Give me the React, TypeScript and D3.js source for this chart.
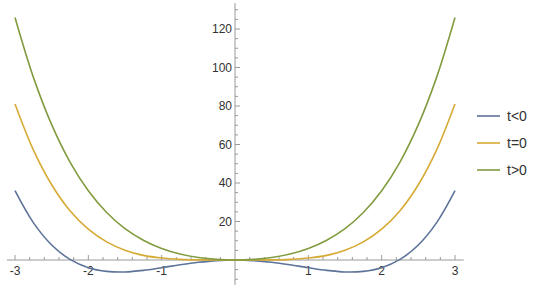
import React from "react";
import * as d3 from "d3";

const xs = [-3, -2.75, -2.5, -2.25, -2, -1.75, -1.5, -1.25, -1, -0.75, -0.5, -0.25, 0,
  0.25, 0.5, 0.75, 1, 1.25, 1.5, 1.75, 2, 2.25, 2.5, 2.75, 3];
const tNeg = [36, 19.4, 7.8, 0.3, -4, -5.9, -6.2, -5.4, -4, -2.5, -1.2, -0.3, 0,
  -0.3, -1.2, -2.5, -4, -5.4, -6.2, -5.9, -4, 0.3, 7.8, 19.4, 36];
const tZero = [81, 57.2, 39.1, 25.6, 16, 9.4, 5.1, 2.4, 1, 0.32, 0.06, 0.004, 0,
  0.004, 0.06, 0.32, 1, 2.4, 5.1, 9.4, 16, 25.6, 39.1, 57.2, 81];
const tPos = [126, 95, 70.3, 50.9, 36, 24.7, 16.3, 10.3, 6, 3.1, 1.3, 0.3, 0,
  0.3, 1.3, 3.1, 6, 10.3, 16.3, 24.7, 36, 50.9, 70.3, 95, 126];
const seriesNames = ["t<0", "t=0", "t>0"];
const seriesColors = ["#5d7398", "#d7aa35", "#809c3f"];
const xTickLabels = [-3, -2, -1, 1, 2, 3];
const yTickLabels = [20, 40, 60, 80, 100, 120];

export default function App() {
  const W = 540, H = 298;
  const x = d3.scaleLinear().domain([-3, 3]).range([15, 455]);
  const y = d3.scaleLinear().domain([0, 120]).range([260, 29]);
  const line = d3.line<[number, number]>()
    .x(d => x(d[0])).y(d => y(d[1]))
    .curve(d3.curveCatmullRom.alpha(0.5));
  const all = [tNeg, tZero, tPos];
  const xMinor = d3.range(-15, 16).map(i => i / 5).filter(v => Math.abs(v) > 1e-9);
  const yMinor = d3.range(-2, 27).map(i => i * 5).filter(v => v !== 0);
  const axisColor = "#9a9a9a";
  const font = "'Liberation Sans', Arial, sans-serif";
  return (
    <svg width={W} height={H} style={{ position: "absolute", left: 0, top: 0, background: "#fff" }}>
      {/* axes */}
      <line x1={x(-3.11)} x2={x(3.12)} y1={y(0)} y2={y(0)} stroke={axisColor} strokeWidth={1} />
      <line x1={x(0)} x2={x(0)} y1={y(133.5)} y2={y(-13)} stroke={axisColor} strokeWidth={1} />
      {xMinor.map((v, i) => {
        const major = Math.abs(v - Math.round(v)) < 1e-9;
        return <line key={"xm" + i} x1={x(v)} x2={x(v)} y1={y(0)} y2={y(0) - (major ? 5 : 3)} stroke={axisColor} />;
      })}
      {yMinor.map((v, i) => {
        const major = v % 20 === 0;
        return <line key={"ym" + i} x1={x(0)} x2={x(0) + (major ? 5 : 3)} y1={y(v)} y2={y(v)} stroke={axisColor} />;
      })}
      {xTickLabels.map(v => (
        <text key={"xl" + v} x={x(v)} y={y(0) + 15} textAnchor="middle" fontSize={12} fontFamily={font} fill="#333">
          {v < 0 ? "-" + Math.abs(v) : v}
        </text>
      ))}
      {yTickLabels.map(v => (
        <text key={"yl" + v} x={x(0) - 3} y={y(v) + 4} textAnchor="end" fontSize={12} fontFamily={font} fill="#333">
          {v}
        </text>
      ))}
      {all.map((s, k) => (
        <path key={"s" + k} d={line(xs.map((xv, i) => [xv, s[i]] as [number, number])) || ""}
          fill="none" stroke={seriesColors[k]} strokeWidth={1.6} />
      ))}
      {seriesNames.map((n, k) => (
        <g key={"lg" + k} transform={`translate(477, ${116 + k * 27})`}>
          <line x1={0} x2={23} y1={0} y2={0} stroke={seriesColors[k]} strokeWidth={1.6} />
          <text x={30} y={5} fontSize={14} fontFamily={font} fill="#333">{n}</text>
        </g>
      ))}
    </svg>
  );
}
